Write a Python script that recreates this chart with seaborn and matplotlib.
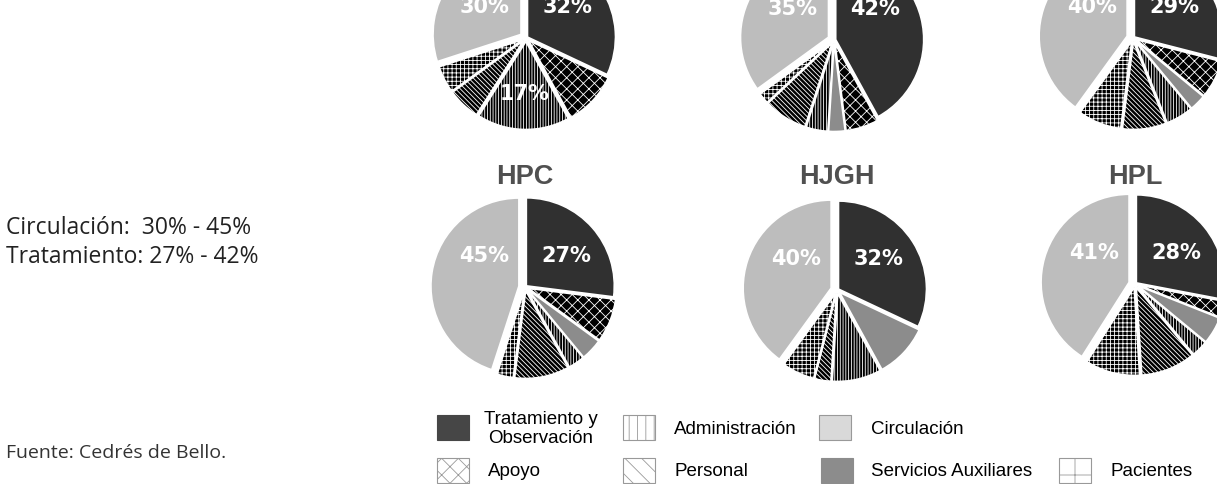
import numpy as np
import matplotlib
matplotlib.use("Agg")
import matplotlib.pyplot as plt
from matplotlib.patches import Rectangle
import seaborn as sns

sns.set_style("white")
plt.rcParams["hatch.linewidth"] = 0.6

# categories, clockwise from 12 o'clock
categories = ["Tratamiento y\nObservación", "Apoyo", "Servicios Auxiliares",
              "Administración", "Personal", "Pacientes", "Circulación"]

# percentages per hospital (same order as categories)
top_left = [32, 10, 0, 17, 6, 5, 30]
top_mid = [42, 6, 3, 4, 8, 2, 35]
top_right = [29, 7, 3, 5, 8, 8, 40]
hpc = [27, 8, 4, 3, 10, 3, 45]
hjgh = [32, 0, 10, 9, 3, 6, 40]
hpl = [28, 3, 5, 3, 10, 10, 41]

hospitals = ["", "", "", "HPC", "HJGH", "HPL"]
all_values = [top_left, top_mid, top_right, hpc, hjgh, hpl]
# which categories get a % label inside the pie
labelled = [[0, 3, 6], [0, 6], [0, 6], [0, 6], [0, 6], [0, 6]]

pie_colors = ["#303030", "black", "#8c8c8c", "black", "black", "black", "#bdbdbd"]
pie_hatch = [None, "xxx", None, "||||||", "\\\\\\\\\\\\\\", "++++", None]
pie_explode = [0.02, 0.04, 0.04, 0.04, 0.04, 0.04, 0.07]
leg_colors = ["#464646", "white", "#8c8c8c", "white", "white", "white", "#d9d9d9"]
leg_hatch = [None, "xx", None, "||", "\\\\", "+", None]

W, H = 1217, 484
fig = plt.figure(figsize=(W / 100, H / 100), dpi=100)

bg = fig.add_axes([0, 0, 1, 1])
bg.set_xlim(0, W)
bg.set_ylim(H, 0)
bg.axis("off")

# pie centres in pixels (from top-left)
centres = [(526, 38), (834, 40), (1133, 38), (525, 287), (837, 290), (1135, 284)]
R = 88
half = 1.3 * R

for (cx, cy), name, vals, labs in zip(centres, hospitals, all_values, labelled):
    ax = fig.add_axes([(cx - half) / W, (H - cy - half) / H, 2 * half / W, 2 * half / H])
    idx = [i for i, v in enumerate(vals) if v > 0]
    wedges, _ = ax.pie([vals[i] for i in idx], colors=[pie_colors[i] for i in idx],
                       startangle=90, counterclock=False,
                       explode=[pie_explode[i] for i in idx],
                       wedgeprops=dict(edgecolor="white", linewidth=1.2))
    for w, i in zip(wedges, idx):
        if pie_hatch[i]:
            w.set_hatch(pie_hatch[i])
    ax.set_xlim(-1.3, 1.3)
    ax.set_ylim(-1.3, 1.3)
    ax.set_aspect("equal")
    ax.axis("off")
    # label placement
    for i in labs:
        if i == 0:
            x, y = 0.47, 0.35
        elif i == 6:
            x, y = -0.47, 0.35
        else:
            x, y = -0.02, -0.64
        ax.text(x, y, f"{vals[i]}%", color="white", fontsize=15, fontweight="bold",
                family="DejaVu Sans", ha="center", va="center")
    if name:
        bg.text(cx, 177, name, ha="center", va="center", fontsize=19.5,
                fontweight="bold", color="#505050", family="Liberation Sans")

# side notes
bg.text(6, 228, "Circulación:  30% - 45%", fontsize=16.5, color="#222222",
        family="Open Sans", va="center")
bg.text(6, 257, "Tratamiento: 27% - 42%", fontsize=16.5, color="#222222",
        family="Open Sans", va="center")
bg.text(6, 453, "Fuente: Cedrés de Bello.", fontsize=14, color="#333333",
        family="Open Sans", va="center")

# legend
leg_pos = [(437, 415, 541, "center"), (437, 458, 488, "left"), (821, 458, 871, "left"),
           (623, 415, 674, "left"), (623, 458, 674, "left"), (1059, 458, 1110, "left"),
           (819, 415, 871, "left")]
for i, (sx, sy, tx, ha) in enumerate(leg_pos):
    ec = "#999999" if leg_hatch[i] or i == 6 else leg_colors[i]
    rect = Rectangle((sx, sy), 32, 25, facecolor=leg_colors[i], edgecolor=ec,
                     linewidth=0.8, hatch=leg_hatch[i])
    bg.add_patch(rect)
    bg.text(tx, sy + 14, categories[i], fontsize=13.5, family="Liberation Sans",
            ha=ha, va="center", multialignment="center", color="black",
            linespacing=1.15)

fig.savefig("out.png", dpi=100)
